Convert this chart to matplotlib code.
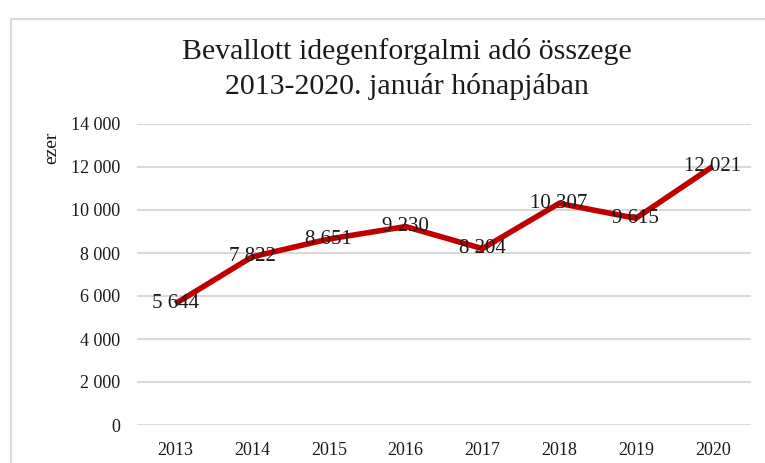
import matplotlib.pyplot as plt
from matplotlib.lines import Line2D

years = ["2013", "2014", "2015", "2016", "2017", "2018", "2019", "2020"]
values = [5644, 7822, 8651, 9230, 8204, 10307, 9615, 12021]
yticks = [0, 2000, 4000, 6000, 8000, 10000, 12000, 14000]

SERIF = ["Liberation Serif", "DejaVu Serif"]
plt.rcParams["font.family"] = SERIF

RED = "#c00000"
GRID = "#d9d9d9"
INK = "#1a1a1a"


def fmt(v):
    return f"{v:,}".replace(",", " ")


fig = plt.figure(figsize=(7.65, 4.63), dpi=100)
fig.patch.set_facecolor("white")

# chart border (left + top visible in the crop)
fig.add_artist(Line2D([11 / 765, 11 / 765], [0, 1 - 19 / 463], transform=fig.transFigure,
                      color=GRID, lw=1.5))
fig.add_artist(Line2D([11 / 765, 1], [1 - 19 / 463, 1 - 19 / 463], transform=fig.transFigure,
                      color=GRID, lw=1.5))

fig.text(0.532, 1 - 59 / 463, "Bevallott idegenforgalmi adó összege", ha="center",
         va="baseline", fontsize=21.5, color=INK)
fig.text(0.532, 1 - 94 / 463, "2013-2020. január hónapjában", ha="center",
         va="baseline", fontsize=21.5, color=INK)

ax = fig.add_axes([137 / 765, 38 / 463, 614 / 765, 301 / 463])
x = list(range(len(years)))
ax.plot(x, values, color=RED, lw=4.0, solid_capstyle="butt", solid_joinstyle="miter", zorder=3)
for xi, v in zip(x, values):
    ax.text(xi, v, fmt(v), ha="center", va="center", fontsize=15, color=INK, zorder=4)

ax.set_xlim(-0.5, len(years) - 0.5)
ax.set_ylim(0, 14000)
ax.set_yticks(yticks)
ax.set_yticklabels([fmt(v) for v in yticks], fontsize=13, color=INK)
ax.set_xticks(x)
ax.set_xticklabels(years, fontsize=13, color=INK)
ax.tick_params(axis="y", length=0, pad=12)
ax.tick_params(axis="x", length=0, pad=12.5)
ax.grid(axis="y", color=GRID, lw=1.5)
ax.set_axisbelow(True)
for s in ax.spines.values():
    s.set_visible(False)

fig.text(52 / 765, 1 - 148 / 463, "ezer", rotation=90, ha="center", va="center",
         fontsize=14, color=INK)

fig.savefig("out.png", dpi=100, facecolor="white")
